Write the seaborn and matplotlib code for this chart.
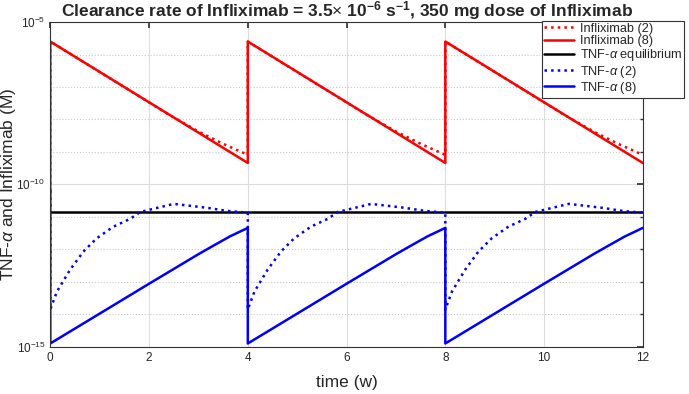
import matplotlib
matplotlib.use("Agg")
import matplotlib.pyplot as plt
import numpy as np
import pandas as pd
import seaborn as sns
from matplotlib.ticker import FixedLocator, NullFormatter

sns.set_theme(style="white")
plt.rcParams['font.family'] = ['Liberation Sans', 'DejaVu Sans']
plt.rcParams['mathtext.fontset'] = 'custom'
plt.rcParams['mathtext.rm'] = 'Liberation Sans'
plt.rcParams['mathtext.it'] = 'Liberation Sans:italic'
plt.rcParams['mathtext.bf'] = 'Liberation Sans:bold'

# dose times (weeks)
dose_times = [0, 4, 8]

# one dosing cycle, log10 of concentration (M)
infl8_t = [0.0, 4.0]
infl8_log = [-5.6, -9.34]
infl2_t = [0.0, 2.4, 3.0, 3.5, 4.0]
infl2_log = [-5.6, -7.85, -8.37, -8.75, -9.09]
tnf8_t = [0.0, 1.0, 2.0, 3.0, 3.3, 3.64, 4.0]
tnf8_log = [-14.9, -13.98, -13.06, -12.15, -11.89, -11.6, -11.34]
tnf2_t = [0.0, 0.135, 0.4, 0.67, 0.94, 1.28, 1.62, 1.82, 2.5, 3.17, 3.6, 4.0]
tnf2_log = [-13.85, -13.3, -12.63, -12.07, -11.66, -11.3, -11.06, -10.85,
            -10.6, -10.72, -10.82, -10.87]
tnf_eq_log = -10.85
initial_log = -10.2  # value just before first dose

def build(t_cycle, v_cycle):
    t, v = [0.0], [initial_log]
    for d in dose_times:
        t += [d + x for x in t_cycle]
        v += list(v_cycle)
    return pd.DataFrame({'t': t, 'c': 10.0 ** np.array(v)})

series = [
    ('Infliximab (2)', build(infl2_t, infl2_log), 'red', ':'),
    ('Infliximab (8)', build(infl8_t, infl8_log), 'red', '-'),
    ('TNF-$\\alpha$ equilibrium',
     pd.DataFrame({'t': [0, 12], 'c': [10.0 ** tnf_eq_log] * 2}), 'black', '-'),
    ('TNF-$\\alpha$ (2)', build(tnf2_t, tnf2_log), 'blue', ':'),
    ('TNF-$\\alpha$ (8)', build(tnf8_t, tnf8_log), 'blue', '-'),
]

fig, ax = plt.subplots(figsize=(6.89, 3.94), dpi=100)
fig.subplots_adjust(left=0.073, right=0.933, top=0.944, bottom=0.12)

for label, df, col, ls in series:
    sns.lineplot(data=df, x='t', y='c', ax=ax, color=col, linestyle=ls,
                 linewidth=1.8, estimator=None, sort=False, label=label)

ax.set_yscale('log')
ax.set_xlim(0, 12)
ax.set_ylim(1e-15, 1e-5)
ax.set_xticks([0, 2, 4, 6, 8, 10, 12])
ax.yaxis.set_major_locator(FixedLocator([1e-15, 1e-10, 1e-5]))
ax.yaxis.set_minor_locator(FixedLocator([10.0 ** k for k in range(-14, -5) if k != -10]))
ax.yaxis.set_minor_formatter(NullFormatter())
ax.set_yticklabels(['$10^{-15}$', '$10^{-10}$', '$10^{-5}$'])

ax.grid(True, which='major', color='#dddddd', linewidth=0.8, linestyle='-')
ax.grid(True, which='minor', axis='y', color='#cccccc', linewidth=0.8, linestyle=':')
ax.set_axisbelow(True)
ax.tick_params(axis='both', which='both', direction='in', top=True, right=True,
               labelsize=8.5, length=4, color='#333333')
ax.tick_params(axis='y', which='minor', length=2.5)
for s in ax.spines.values():
    s.set_color('#333333')
    s.set_linewidth(0.8)

ax.set_xlabel('time (w)', fontsize=12.5, labelpad=8)
ax.set_ylabel('TNF-$\\alpha$ and Infliximab (M)', fontsize=12.5)
ax.yaxis.set_label_coords(-0.055, 0.5)
ax.set_title('Clearance rate of Infliximab = 3.5$\\times$ $\\mathbf{10^{-6}}$ $\\mathbf{s^{-1}}$, 350 mg dose of Infliximab',
             fontsize=12.5, fontweight='bold', pad=4)

leg = ax.legend(loc='upper left', bbox_to_anchor=(542 / 689, 1 - 21 / 394),
                bbox_transform=fig.transFigure, fontsize=9.2, frameon=True,
                fancybox=False, borderaxespad=0, handlelength=2.35,
                handletextpad=0.45, labelspacing=0.02, borderpad=0.15)
leg.get_frame().set_edgecolor('#333333')
leg.get_frame().set_linewidth(0.8)
leg.get_frame().set_alpha(1)

fig.savefig('out.png', dpi=100)
